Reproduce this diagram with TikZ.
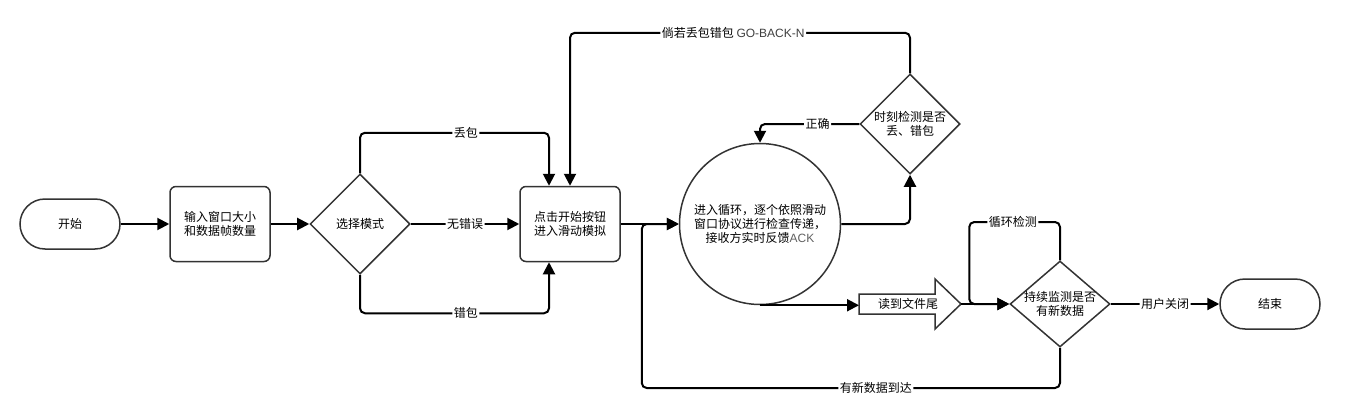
\documentclass[tikz,border=0pt]{standalone}
\usepackage{fontspec}
\setmainfont{Noto Sans CJK SC}
\newfontfamily\latinf{Liberation Sans}
\usetikzlibrary{arrows.meta,shapes.geometric,calc}
\definecolor{bordc}{HTML}{333333}
\definecolor{ackc}{HTML}{606060}
\definecolor{gbc}{HTML}{404040}
\begin{document}
\begin{tikzpicture}[x=1pt,y=-1pt,
  every node/.style={font=\fontsize{12}{14}\selectfont},
  box/.style={draw=bordc,line width=1.5pt,rounded corners=6pt,minimum width=100pt,minimum height=75pt,align=center,inner sep=0pt},
  term/.style={draw=bordc,line width=1.5pt,rounded corners=25pt,minimum width=100pt,minimum height=50pt,inner sep=0pt},
  dia/.style={draw=bordc,line width=1.5pt,diamond,minimum width=100pt,minimum height=100pt,inner sep=0pt},
  conn/.style={line width=2pt,rounded corners=5pt},
  arr/.style={-{Triangle[length=12pt,width=12pt]}},
  lbl/.style={fill=white,inner sep=1.5pt}
]
\useasboundingbox (0,0) rectangle (1346,415);

\node[term] (start) at (70,224) {开始};
\node[box] (inp) at (220,224) {输入窗口大小\\和数据帧数量};
\node[dia, label={[align=center]center:选择模式}] (d1) at (360,224) {};
\node[box] (btn) at (570,224) {点击开始按钮\\进入滑动模拟};
\node[circle,draw=bordc,line width=1.5pt,minimum size=161pt,inner sep=0pt,align=center] (loop) at (760,224)
  {进入循环，逐个依照滑动\\窗口协议进行检查传递，\\接收方实时反馈{\latinf\color{ackc}ACK}};
\node[dia, label={[align=center]center:时刻检测是否\\丢、错包}] (chk) at (910,124) {};
\draw[bordc,line width=1.5pt] (859,294) -- (935,294) -- (935,279) -- (961,304) -- (935,329) -- (935,314) -- (859,314) -- cycle;
\node (eof) at (908,304) {读到文件尾};
\coordinate (eofin) at (859,304);
\coordinate (eofout) at (961,304);
\node[dia,minimum height=86pt, label={[align=center]center:持续监测是否\\有新数据}] (mon) at (1060,304) {};
\node[term] (end) at (1270,304) {结束};

\draw[conn,arr] (start) -- (inp);
\draw[conn,arr] (inp) -- (d1);
\draw[conn,arr] (d1) -- node[lbl]{无错误} (btn);
\draw[conn,arr] (d1.north) |- node[lbl,pos=0.78]{丢包} ($(btn.north)+(-21,-53)$) -- ($(btn.north)+(-21,0)$);
\draw[conn,arr] (d1.south) |- node[lbl,pos=0.78]{错包} ($(btn.south)+(-21,51)$) -- ($(btn.south)+(-21,0)$);
\draw[conn,arr] (chk.north) |- node[lbl,pos=0.76]{倘若丢包错包 {\latinf\color{gbc}GO-BACK-N}} ($(btn.north)+(0,-153)$) -- (btn.north);
\draw[conn,arr] (chk.west) -| node[lbl,pos=0.21]{正确} (loop.north);
\draw[conn,arr] (loop.east) -| (chk.south);
\draw[conn,arr] (btn.east) -- (loop.west);
\draw[conn,arr] (loop.south) -- (loop.south -| eofin);
\draw[conn,arr] (eofout) -- (mon.west);
\draw[conn,arr] (mon.north) |- node[lbl,pos=0.76]{循环检测} ($(mon.west)+(-40,-82)$) |- (mon.west);
\draw[conn,arr] (mon.east) -- node[lbl]{用户关闭} (end.west);
\draw[conn,arr] (mon.south) |- node[lbl,pos=0.72]{有新数据到达} ($(loop.west)+(-37,164)$) |- (loop.west);
\end{tikzpicture}
\end{document}
